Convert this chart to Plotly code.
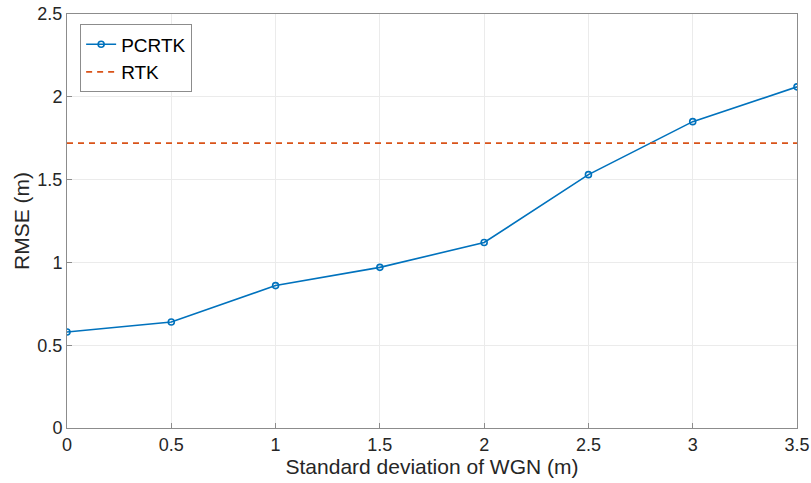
import plotly.graph_objects as go

wgn_std = [0, 0.5, 1, 1.5, 2, 2.5, 3, 3.5]
pcrtk_rmse = [0.58, 0.64, 0.86, 0.97, 1.12, 1.53, 1.85, 2.06]
rtk_rmse = 1.72
x_ticks = [0, 0.5, 1, 1.5, 2, 2.5, 3, 3.5]
y_ticks = [0, 0.5, 1, 1.5, 2, 2.5]

FONT = "Liberation Sans, Arial, sans-serif"

fig = go.Figure()
fig.add_trace(go.Scatter(
    x=wgn_std, y=pcrtk_rmse, name="PCRTK", mode="lines+markers",
    line=dict(color="#0072BD", width=1.6),
    marker=dict(symbol="circle-open", size=6, color="#0072BD", line=dict(width=1.6)),
))
fig.add_trace(go.Scatter(
    x=[wgn_std[0], wgn_std[-1]], y=[rtk_rmse, rtk_rmse], name="RTK", mode="lines",
    line=dict(color="#D95319", width=1.6, dash="6px,5px"),
))

axis_common = dict(
    showline=True, linecolor="#8c8c8c", linewidth=1, mirror=True,
    ticks="inside", ticklen=5, tickcolor="#8c8c8c",
    showgrid=True, gridcolor="#ebebeb", gridwidth=1, zeroline=False,
    automargin=False,
    tickfont=dict(family=FONT, size=18, color="#262626"),
)
fig.update_xaxes(range=[0, 3.5], tickvals=x_ticks, ticktext=[f"{v:g}" for v in x_ticks],
                 title=dict(text="Standard deviation of WGN (m)", standoff=2,
                            font=dict(family=FONT, size=21, color="#262626")),
                 **axis_common)
fig.update_yaxes(range=[0, 2.5], tickvals=y_ticks, ticktext=[f"{v:g}" for v in y_ticks],
                 title=dict(text="RMSE (m)", standoff=2,
                            font=dict(family=FONT, size=21, color="#262626")),
                 **axis_common)
fig.update_layout(
    width=811, height=483,
    margin=dict(l=67, r=14, t=14, b=55),
    plot_bgcolor="white", paper_bgcolor="white",
    showlegend=True,
    legend=dict(x=0.018, y=0.975, xanchor="left", yanchor="top",
                bgcolor="white", bordercolor="#8c8c8c", borderwidth=1,
                font=dict(family=FONT, size=19, color="#000000"),
                tracegroupgap=0, itemwidth=30),
)
fig.write_html("out.html", config={"displayModeBar": False},
               post_script="document.body.style.margin='0';document.body.style.overflow='hidden';")
